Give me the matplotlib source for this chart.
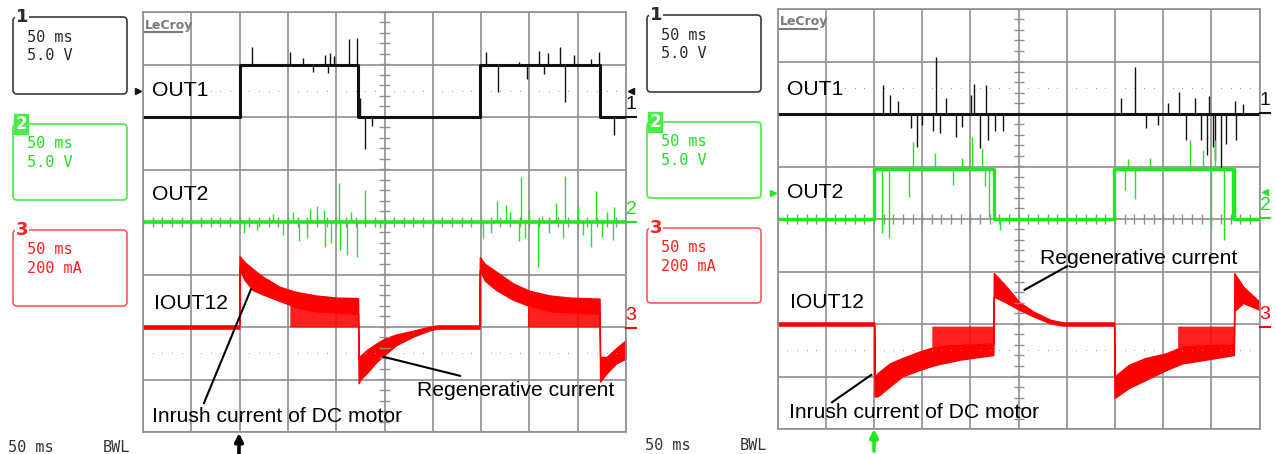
import numpy as np
import matplotlib.pyplot as plt
from matplotlib.patches import FancyBboxPatch

plt.rcParams['font.family'] = ['Liberation Sans', 'DejaVu Sans']

W, H = 1276, 454

# time in ms (50 ms/div, 10 div), levels in screen divisions (-4..4)
# ---------------- left capture ----------------
L_out1_edges = [100, 223, 349, 473]
L_out1_lo, L_out1_hi = 2.0, 3.0
L_out1_spk_t = [113, 152, 166, 188, 194, 198, 213, 222, 355, 389, 410, 419, 432, 446, 464, 472,
                176, 192, 367, 397, 415, 437, 225, 230, 237, 488]
L_out1_spk_v = [3.34, 3.23, 3.12, 3.18, 3.22, 3.16, 3.49, 3.51, 3.23, 3.05, 3.26, 3.22, 3.34, 3.18, 3.10, 3.23,
                2.86, 2.83, 2.48, 2.72, 2.82, 2.29, 2.36, 1.40, 1.82, 1.66]

L_out2_level = 0.0
L_out2_spk_t = [203, 230, 173, 187, 366, 391, 437, 469, 488, 376, 428, 413, 162, 188, 195, 204, 211, 222,
                352, 389, 409, 435, 464, 475, 487, 105, 118, 135, 145, 155, 170, 180, 215, 245, 360,
                380, 395, 400, 420, 450, 455, 480]
L_out2_spk_v = [0.75, 0.61, 0.25, 0.22, 0.40, 0.86, 0.88, 0.60, 0.28, 0.32, 0.36, 0.12, -0.37, -0.47, -0.40,
                -0.53, -0.63, -0.66, -0.31, -0.37, -0.85, -0.31, -0.47, -0.28, -0.34, -0.20, -0.15, 0.15,
                -0.25, 0.20, -0.30, 0.30, 0.20, -0.12, -0.20, 0.20, -0.30, 0.25, -0.20, 0.30, -0.25, 0.20]

L_i_t = [0, 99.6, 100, 105, 114, 124, 141, 158, 179, 200, 222.6, 223.2, 225, 231.5, 242, 250, 262.6, 280,
         297, 305, 348.3, 348.7, 354, 366, 383, 400, 421, 442, 472.6, 473.2, 480, 490, 500]
L_i_top = [-1.97, -1.97, -0.65, -0.76, -0.90, -1.04, -1.23, -1.33, -1.40, -1.44, -1.45, -2.60, -2.55, -2.44,
           -2.31, -2.22, -2.14, -2.07, -1.99, -1.97, -1.97, -0.67, -0.80, -0.95, -1.17, -1.31, -1.40, -1.44,
           -1.46, -2.57, -2.57, -2.40, -2.25]
L_i_bot = [-2.03, -2.03, -0.90, -1.10, -1.30, -1.38, -1.50, -1.62, -1.70, -1.72, -1.75, -3.07, -3.00, -2.88,
           -2.66, -2.53, -2.34, -2.18, -2.06, -2.03, -2.03, -0.92, -1.12, -1.30, -1.48, -1.60, -1.70, -1.72,
           -1.75, -3.04, -2.88, -2.69, -2.60]
L_chop_t = [[152, 160, 180, 200, 222.6], [398, 421, 442, 472.6]]
L_chop_edge = [[-1.55, -1.62, -1.70, -1.72, -1.75], [-1.60, -1.70, -1.72, -1.75]]
L_chop_base = -2.0

# ---------------- right capture ----------------
R_out1_level = 2.0
R_out1_spk_t = [109, 117, 164, 201, 204, 216, 371, 356, 416, 433, 448, 474, 483, 145, 138, 161, 168, 185,
                191, 210, 218, 226, 234, 382, 424, 439, 445, 452, 460, 454, 465, 475, 125, 150, 175, 395, 405]
R_out1_spk_v = [2.55, 2.36, 3.08, 2.36, 2.58, 2.55, 2.90, 2.31, 2.42, 2.31, 2.35, 2.25, 2.19, 1.38, 1.73,
                1.67, 1.63, 1.57, 1.76, 1.35, 1.50, 1.67, 1.67, 1.73, 1.50, 1.50, 1.22, 1.38, 0.93, 1.12,
                1.43, 1.50, 2.25, 1.80, 2.30, 1.80, 2.20]

R_out2_edges = [100.5, 224, 349.4, 473.5]
R_out2_lo, R_out2_hi = 0.0, 0.95
R_out2_spk_t = [140, 163, 191, 202, 212, 364, 386, 428, 441, 454, 116, 108, 136, 182, 215, 219, 360, 371,
                450, 463, 471, 231]
R_out2_spk_v = [1.47, 1.25, 1.17, 1.57, 1.36, 1.14, 1.17, 1.50, 1.31, 1.50, -0.36, -0.27, 0.42, 0.65, 0.63,
                0.04, 0.55, 0.38, -0.20, -0.40, 0.0, -0.20]

R_i_t = [0, 100.2, 100.6, 103.6, 116.4, 129.2, 146.3, 163.4, 189, 223.8, 224.3, 236, 250.6, 266, 283.2,
         296, 349.1, 349.5, 364.2, 381.3, 402.7, 419.8, 454, 473.3, 473.8, 483, 500]
R_i_top = [-1.97, -1.97, -3.00, -2.94, -2.75, -2.65, -2.53, -2.43, -2.40, -2.37, -1.03, -1.26, -1.58, -1.77,
           -1.92, -1.97, -1.97, -3.00, -2.78, -2.65, -2.56, -2.43, -2.40, -2.40, -1.03, -1.29, -1.58]
R_i_bot = [-2.03, -2.03, -3.38, -3.38, -3.19, -3.00, -2.88, -2.78, -2.68, -2.59, -1.48, -1.58, -1.73, -1.86,
           -1.99, -2.03, -2.03, -3.41, -3.22, -3.07, -2.88, -2.75, -2.65, -2.59, -1.75, -1.60, -1.73]
R_chop_t = [[160, 189, 223.8], [415, 454, 473.3]]
R_chop_edge = [[-2.43, -2.40, -2.37], [-2.45, -2.40, -2.40]]
R_chop_base = -2.04

BLACK, GREEN, RED, GRID = '#111111', '#1ee81e', '#ff0000', '#8f8f8f'


def square(edges, lo, hi):
    xs, ys, lev = [0], [lo], lo
    for e in edges:
        xs += [e, e]
        ys += [lev, hi if lev == lo else lo]
        lev = ys[-1]
    return xs + [500], ys + [lev]


def base_of(t, edges, lo, hi):
    n = np.searchsorted(edges, t)
    return np.where(n % 2 == 1, hi, lo)


def scope_axes(rect):
    ax = fig.add_axes(rect)
    ax.set_xlim(0, 500)
    ax.set_ylim(-4, 4)
    ax.set_xticks(np.arange(0, 501, 50))
    ax.set_yticks(np.arange(-4, 5, 1))
    ax.grid(True, color=GRID, lw=1.2)
    ax.set_axisbelow(True)
    ax.tick_params(length=0, labelbottom=False, labelleft=False)
    for s in ax.spines.values():
        s.set_color(GRID)
        s.set_linewidth(1.2)
    yy = np.arange(-4, 4.01, 0.2)
    ax.hlines(yy, 244.8, 255.2, color=GRID, lw=1.0)
    ax.vlines(np.arange(0, 501, 10), -0.095, 0.095, color=GRID, lw=1.0)
    dots = [t for t in range(10, 500, 10) if t % 50]
    for lvl in (2.5, -2.5):
        ax.plot(dots, [lvl] * len(dots), ls='none', marker='s', ms=0.7, mew=0, color='#9a9a9a')
    return ax


def spikes(ax, t, v, base, color):
    ax.vlines(t, base, v, color=color, lw=1.0)


def current(ax, t, top, bot, ct, ce, cb):
    ax.fill_between(t, bot, top, color=RED, lw=1.0, edgecolor=RED)
    for tt, ee in zip(ct, ce):
        ax.fill_between(tt, cb, ee, color=RED, alpha=0.88, lw=0)


fig = plt.figure(figsize=(W / 100, H / 100), dpi=100)

# ---- left capture ----
axL = scope_axes([143 / W, (H - 432) / H, 483 / W, 420 / H])
x, y = square(L_out1_edges, L_out1_lo, L_out1_hi)
axL.plot(x, y, color=BLACK, lw=2.2)
spikes(axL, L_out1_spk_t, L_out1_spk_v, base_of(L_out1_spk_t, L_out1_edges, L_out1_lo, L_out1_hi), BLACK)
axL.plot([0, 500], [L_out2_level] * 2, color=GREEN, lw=2.6)
spikes(axL, L_out2_spk_t, L_out2_spk_v, L_out2_level, GREEN)
current(axL, L_i_t, L_i_top, L_i_bot, L_chop_t, L_chop_edge, L_chop_base)

fs = 15.2
axL.text(9.3, 2.5, 'OUT1', fontsize=fs, va='center')
axL.text(9.3, 0.53, 'OUT2', fontsize=fs, va='center')
axL.text(11.4, -1.56, 'IOUT12', fontsize=fs, va='center')
axL.text(9.3, -3.71, 'Inrush current of DC motor', fontsize=fs, va='center')
axL.text(283.6, -3.2, 'Regenerative current', fontsize=fs, va='center')
axL.plot([63.1, 111.8], [-3.45, -1.28], color='k', lw=1.5)
axL.plot([328.2, 249.5], [-2.93, -2.57], color='k', lw=1.5)

# ---- right capture ----
axR = scope_axes([777.6 / W, (H - 429) / H, 482 / W, 420 / H])
axR.plot([0, 500], [R_out1_level] * 2, color=BLACK, lw=2.2)
spikes(axR, R_out1_spk_t, R_out1_spk_v, R_out1_level, BLACK)
x, y = square(R_out2_edges, R_out2_lo, R_out2_hi)
axR.plot(x, y, color=GREEN, lw=2.4)
spikes(axR, R_out2_spk_t, R_out2_spk_v, base_of(R_out2_spk_t, R_out2_edges, R_out2_lo, R_out2_hi), GREEN)
current(axR, R_i_t, R_i_top, R_i_bot, R_chop_t, R_chop_edge, R_chop_base)

axR.text(9.75, 2.46, 'OUT1', fontsize=fs, va='center')
axR.text(9.75, 0.51, 'OUT2', fontsize=fs, va='center')
axR.text(12.9, -1.6, 'IOUT12', fontsize=fs, va='center')
axR.text(11.6, -3.68, 'Inrush current of DC motor', fontsize=fs, va='center')
axR.text(272.5, -0.76, 'Regenerative current', fontsize=fs, va='center')
axR.plot([300.3, 256.2], [-0.9, -1.35], color='k', lw=1.5)
axR.plot([56.5, 97.1], [-3.49, -2.97], color='k', lw=1.5)

# ---- screen furniture in pixel coordinates ----
ov = fig.add_axes([0, 0, 1, 1], zorder=5)
ov.set_xlim(0, W)
ov.set_ylim(H, 0)
ov.axis('off')
ov.patch.set_alpha(0)
mono = dict(family='DejaVu Sans Mono', fontsize=11, va='center')


def chan_box(x0, y0, h, edge, tcol, num, lines, label_style):
    ov.add_patch(FancyBboxPatch((x0, y0), 114, h, boxstyle='round,pad=0,rounding_size=4',
                                fc='none', ec=edge, lw=1.2))
    if label_style == 'inv':
        ov.text(x0 + 8, y0, num, fontsize=12, fontweight='bold', color='white', ha='center', va='center',
                family='DejaVu Sans', bbox=dict(fc=edge, ec=edge, pad=1.0))
    else:
        ov.text(x0 + 9, y0, num, fontsize=13, fontweight='bold', color=tcol, ha='center', va='center',
                family='DejaVu Sans', bbox=dict(fc='white', ec='none', pad=0.5))
    for k, s in enumerate(lines):
        ov.text(x0 + 14, y0 + 20 + 18.5 * k, s, color=tcol, **mono)


def edge_mark(x0, y_lvl, num, color):
    ov.text(x0, y_lvl - 4, num, fontsize=14, color=color, ha='center', va='bottom')
    ov.plot([x0 - 5, x0 + 5], [y_lvl, y_lvl], color=color, lw=1.5)


for dx, boxes in ((0, [(17, 77), (124, 76), (230, 76)]), (634, [(15, 77), (122, 76), (228, 75)])):
    chan_box(13 + dx, boxes[0][0], boxes[0][1], '#3a3a3a', '#2a2a2a', '1', ['50 ms', '5.0 V'], 'n')
    chan_box(13 + dx, boxes[1][0], boxes[1][1], '#44ee44', '#22dd22', '2', ['50 ms', '5.0 V'], 'inv')
    chan_box(13 + dx, boxes[2][0], boxes[2][1], '#ff5a5a', '#ff2020', '3', ['50 ms', '200 mA'], 'n')

for x0, y0 in ((145, 25), (780, 22)):
    ov.text(x0, y0, 'LeCroy', fontsize=9, fontweight='bold', color='#7a7a7a', va='center',
            family='DejaVu Sans')
    ov.plot([x0, x0 + 37], [y0 + 7, y0 + 7], color='#7a7a7a', lw=1.5)

# channel level markers
ov.plot(138, 91, marker='>', ms=5, color=BLACK)
ov.plot(773, 193, marker='>', ms=5, color=GREEN)
ov.plot(631, 91, marker='<', ms=5, color=BLACK)
edge_mark(631, 117, '1', BLACK)
edge_mark(631, 222, '2', '#22dd22')
edge_mark(631, 328, '3', RED)
ov.plot(1265, 192, marker='<', ms=5, color=GREEN)
edge_mark(1265, 113, '1', BLACK)
edge_mark(1265, 218, '2', '#22dd22')
edge_mark(1265, 327, '3', RED)

# timebase labels and trigger arrows
for x0, y0 in ((8, 447), (645, 445)):
    ov.text(x0, y0, '50 ms', color='#333333', **mono)
    ov.text(x0 + 95, y0, 'BWL', color='#333333', **mono)
ov.annotate('', xy=(239, 433), xytext=(239, 454),
            arrowprops=dict(arrowstyle='-|>', lw=2.6, color='k', mutation_scale=12,
                            shrinkA=0, shrinkB=0))
ov.annotate('', xy=(874, 429), xytext=(874, 451),
            arrowprops=dict(arrowstyle='-|>', lw=2.6, color=GREEN, mutation_scale=12,
                            shrinkA=0, shrinkB=0))

fig.savefig('out.png', dpi=100)
